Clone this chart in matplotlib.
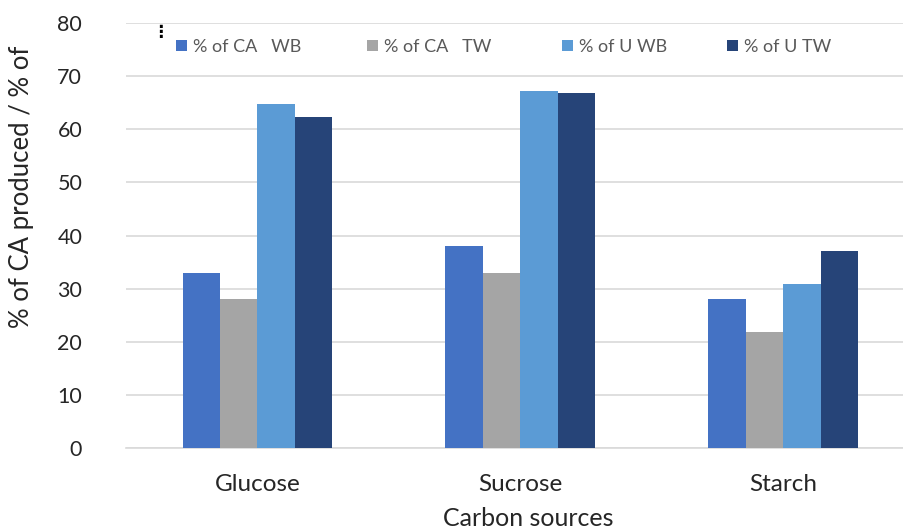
import numpy as np
import matplotlib.pyplot as plt

plt.rcParams['font.family'] = ['Lato', 'DejaVu Sans']

sources = ['Glucose', 'Sucrose', 'Starch']
series_names = ['% of CA   WB', '% of CA   TW', '% of U WB', '% of U TW']
ca_wb = [33.0, 38.0, 28.0]
ca_tw = [28.1, 32.9, 21.9]
u_wb = [64.8, 67.2, 30.9]
u_tw = [62.3, 66.8, 37.0]
colors = ['#4472C4', '#A5A5A5', '#5B9BD5', '#264478']
legend_x = [167, 358, 553, 718]

W, H = 904, 531
fig = plt.figure(figsize=(W / 100, H / 100), dpi=100)
ax = fig.add_axes([126 / W, (H - 448) / H, 1 - 126 / W, (448 - 23) / H])

x = np.arange(len(sources))
bw = 0.1425
handles = []
for i, (vals, name, c) in enumerate(zip([ca_wb, ca_tw, u_wb, u_tw], series_names, colors)):
    b = ax.bar(x + (i - 1.5) * bw, vals, bw, color=c, label=name, zorder=3)
    handles.append(b)

ax.set_xlim(-0.5, 2.46)
ax.set_ylim(0, 80)
ax.set_yticks(range(0, 81, 10))
ax.grid(axis='y', color='#d9d9d9', linewidth=1.2, zorder=0)
for s in ['top', 'right', 'left']:
    ax.spines[s].set_visible(False)
ax.spines['bottom'].set_color('#d9d9d9')
ax.spines['bottom'].set_linewidth(1.2)
ax.tick_params(axis='y', length=0, pad=31.5, labelsize=15.5, labelcolor='#262626')
ax.tick_params(axis='x', length=0, pad=19, labelsize=17.5, labelcolor='#262626')
ax.set_xticks(x)
ax.set_xticklabels(sources)

fig.text(22 / W, 1 - 187 / H, '% of CA produced / % of', rotation=90,
         ha='center', va='center', fontsize=18.5, color='#262626')
fig.text(528 / W, 1 - 519 / H, 'Carbon sources', ha='center', va='center',
         fontsize=18, color='#262626')
fig.text(160 / W, 1 - 32 / H, '\u22ee', ha='center', va='center',
         fontsize=12, fontweight='bold', color='#000000', family=['DejaVu Sans'])

# one legend per entry so each sits at its own spot along the top
for h, name, lx in zip(handles, series_names, legend_x):
    fig.legend(handles=[h], labels=[name], loc='center left',
               bbox_to_anchor=(lx / W, 1 - 47 / H), frameon=False,
               fontsize=13, handlelength=0.6, handleheight=0.6,
               handletextpad=0.35, borderpad=0, labelcolor='#595959')

fig.savefig('out.png', dpi=100)
